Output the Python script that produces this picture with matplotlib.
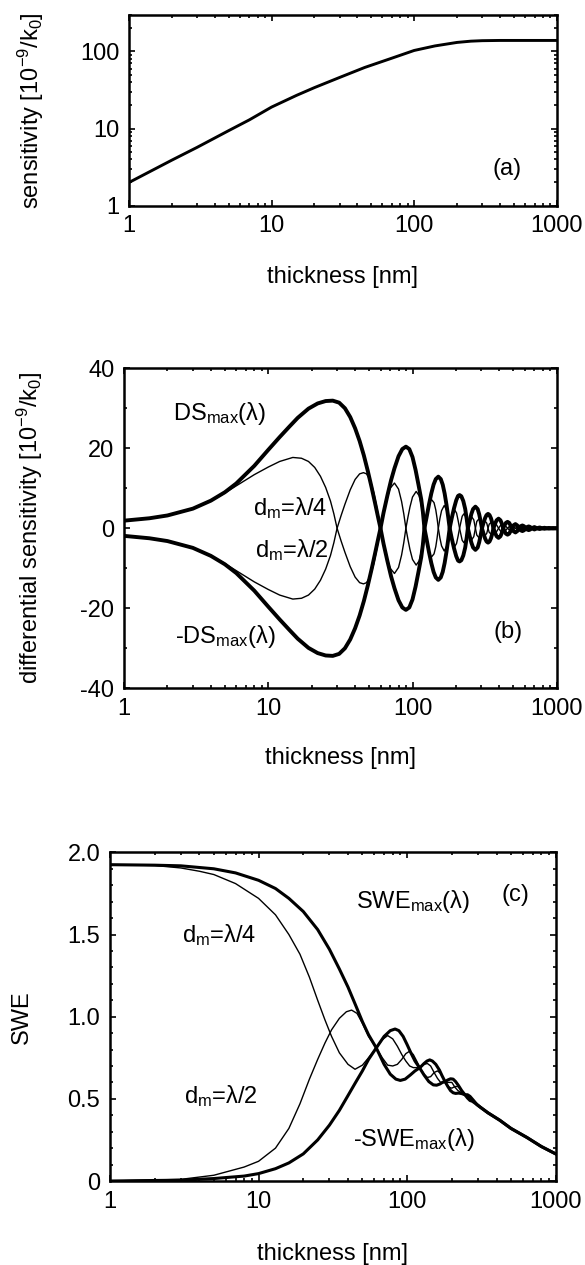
import matplotlib
matplotlib.use("Agg")
import numpy as np
import matplotlib.pyplot as plt
from matplotlib.ticker import MultipleLocator, NullFormatter

# ---- panel (a): sensitivity vs thickness ----
sens_x = [1, 2, 3, 5, 7, 10, 15, 20, 30, 45, 70, 100, 140, 200, 250, 300, 400, 600, 1000]
sens_y = [2.0, 3.9, 5.7, 9.4, 13.0, 19.0, 27, 34, 46, 62, 82, 103, 118, 131, 136, 138, 139, 139, 139]

# ---- panel (b): differential sensitivity ----
ds_x = [1, 1.5, 2, 3, 4, 5, 6, 8, 10, 12,
        14, 16, 19, 22, 25, 28, 31, 34, 37, 40,
        43, 46, 49, 52, 55, 58, 60, 63, 67, 71,
        75, 80, 85, 90, 95, 100, 105, 110, 115, 118,
        121, 125, 130, 135, 140, 145, 151, 157, 162, 167,
        172, 177, 181, 187, 194, 201, 207, 212, 218, 225,
        232, 238, 242, 249, 256, 263, 273, 283, 290, 297,
        303, 311, 319, 326, 334, 342, 350, 357, 364, 373,
        383, 395, 407, 416, 425, 434, 444, 456, 468, 477,
        486, 500, 517, 533, 547, 561, 578, 594, 608, 624,
        639, 654, 669, 700, 730, 761, 791, 822, 852, 883,
        913, 944, 974, 1000]
ds_max = [1.9, 2.5, 3.2, 4.9, 6.9, 9.0, 11.2, 15.6, 19.6, 22.8,
          25.4, 27.6, 29.9, 31.2, 31.8, 31.9, 31.4, 30.0, 27.8, 25.0,
          21.8, 18.2, 14.3, 10.3, 6.3, 2.4, 0.0, -3.9, -8.2, -12.0,
          -15.0, -18.0, -19.8, -20.4, -19.8, -17.8, -14.6, -10.9, -7.2, -4.1,
          0.0, 2.6, 5.9, 8.7, 10.9, 12.3, 12.9, 12.3, 10.9, 8.7,
          5.9, 2.7, 0.0, -2.5, -5.0, -7.0, -8.1, -8.3, -8.0, -6.8,
          -4.8, -2.1, 0.0, 1.9, 3.6, 4.8, 5.4, 4.8, 3.5, 1.7,
          0.0, -1.4, -2.6, -3.3, -3.6, -3.3, -2.5, -1.4, 0.0, 1.1,
          2.0, 2.4, 2.0, 1.2, 0.0, -0.7, -1.35, -1.6, -1.35, -0.8,
          0.0, 0.7, 1.05, 0.7, 0.0, -0.5, -0.7, -0.5, 0.0, 0.32,
          0.46, 0.32, 0.0, -0.3, 0.0, 0.2, 0.0, -0.13, 0.0, 0.09,
          0.0, -0.06, 0.0, 0.03]

dm_x = [1, 1.5, 2, 3, 4, 5, 6, 7, 8, 10,
        12, 14.8, 17, 19, 21, 23, 25, 27, 28.5, 30,
        32, 34, 37, 40, 43, 45.7, 48, 51, 54, 57,
        60, 63, 66, 70, 75, 80, 84, 87, 90, 93,
        96, 100, 106, 111, 115, 118, 121, 124, 128, 132,
        136, 141, 145, 148, 151, 155, 159, 166, 173, 177,
        181, 185, 190, 196, 202, 207, 212, 217, 221, 227,
        233, 237, 242, 248, 257, 266, 273, 279, 288, 297,
        303, 309, 318, 327, 334, 340, 349, 358, 364, 379,
        395, 410, 425, 440, 456, 471, 486, 501, 517, 532,
        547, 562, 578, 593, 608, 623, 639, 700, 1000]
dm_quarter = [1.9, 2.5, 3.2, 4.9, 6.8, 8.8, 10.6, 12.1, 13.4, 15.3,
              16.7, 17.7, 17.5, 16.7, 15.2, 13.0, 10.2, 6.8, 3.6, 0.0,
              -3.2, -6.0, -9.6, -12.2, -13.6, -13.9, -13.6, -12.0, -8.8, -4.6,
              0.0, 3.8, 7.0, 10.0, 11.3, 9.8, 6.7, 3.6, 0.0, -2.8,
              -5.3, -7.8, -9.2, -8.2, -5.9, -3.2, 0.0, 2.7, 5.3, 6.8,
              7.1, 6.4, 4.6, 2.5, 0.0, -2.5, -4.4, -5.7, -4.4, -2.5,
              0.0, 2.0, 3.8, 4.6, 3.8, 2.0, 0.0, -1.7, -3.0, -3.6,
              -3.0, -1.7, 0.0, 2.1, 2.9, 2.1, 0.0, -1.7, -2.3, -1.7,
              0.0, 1.3, 1.8, 1.3, 0.0, -1.0, -1.4, -1.0, 0.0, 1.1,
              0.0, -0.85, 0.0, 0.65, 0.0, -0.5, 0.0, 0.4, 0.0, -0.3,
              0.0, 0.23, 0.0, -0.18, 0.0, 0.14, 0.0, 0.0, 0.0]

# ---- panel (c): SWE ----
swe_max_x = [1, 2, 3, 5, 7, 10, 13, 16, 20, 25,
             30, 35, 40, 45, 50, 55, 62, 70, 77, 84,
             90, 97, 105, 113, 122, 130, 136, 142, 148, 156,
             165, 172, 180, 188, 196, 204, 212, 222, 233, 245,
             255, 265, 280, 295, 310, 350, 420, 500, 640, 800, 1000]
swe_max = [1.925, 1.922, 1.918, 1.90, 1.875, 1.83, 1.78, 1.72, 1.64, 1.53,
           1.41, 1.29, 1.18, 1.07, 0.97, 0.89, 0.81, 0.71, 0.65, 0.62,
           0.612, 0.62, 0.645, 0.67, 0.69, 0.715, 0.73, 0.737, 0.73, 0.71,
           0.675, 0.64, 0.605, 0.575, 0.55, 0.537, 0.533, 0.535, 0.532, 0.525,
           0.525, 0.515, 0.49, 0.465, 0.45, 0.415, 0.37, 0.32, 0.265, 0.21, 0.165]

swe_min_x = [1, 3, 5, 8, 10, 13, 16, 20, 25, 30,
             35, 40, 45, 50, 55, 62, 70, 77, 83, 88,
             94, 100, 106, 113, 122, 130, 140, 150, 158, 166,
             173, 180, 188, 196, 204, 212, 222, 233, 245, 255,
             265, 275, 290, 310, 350, 420, 500, 640, 800, 1000]
swe_min = [0.0, 0.005, 0.015, 0.03, 0.045, 0.075, 0.11, 0.165, 0.25, 0.34,
           0.43, 0.52, 0.6, 0.67, 0.74, 0.81, 0.88, 0.915, 0.925, 0.915,
           0.88, 0.83, 0.78, 0.73, 0.685, 0.645, 0.605, 0.585, 0.583, 0.59,
           0.6, 0.605, 0.615, 0.622, 0.62, 0.605, 0.58, 0.55, 0.525, 0.505,
           0.49, 0.485, 0.47, 0.45, 0.415, 0.37, 0.32, 0.265, 0.21, 0.165]

swe_q_x = [1, 2, 3, 4, 5, 7, 10, 13, 16, 19,
           22, 25, 28, 31, 35, 40, 44.6, 50, 55, 62,
           68, 74, 80, 86, 92, 98, 104, 110, 116, 122,
           130, 137, 144, 152, 160, 168, 176, 184, 192, 200,
           210, 220, 230, 245, 260, 280, 300, 320, 350, 420,
           500, 640, 800, 1000]
swe_quarter = [1.925, 1.92, 1.905, 1.885, 1.865, 1.81, 1.72, 1.62, 1.5, 1.38,
               1.24, 1.1, 0.98, 0.88, 0.78, 0.71, 0.68, 0.705, 0.75, 0.81,
               0.86, 0.885, 0.865, 0.82, 0.77, 0.73, 0.7, 0.69, 0.69, 0.69,
               0.71, 0.715, 0.7, 0.66, 0.625, 0.6, 0.6, 0.6, 0.6, 0.6,
               0.57, 0.55, 0.54, 0.525, 0.51, 0.49, 0.465, 0.44, 0.415, 0.37,
               0.32, 0.265, 0.21, 0.165]

swe_h_x = [1, 3, 5, 8, 10, 13, 16, 19, 22, 25,
           28, 31, 35, 39, 42.3, 46, 50, 55, 62, 68,
           74, 80, 86, 92, 98, 104, 110, 116, 122, 130,
           137, 144, 152, 160, 168, 176, 184, 192, 200, 210,
           220, 230, 245, 260, 280, 300, 320, 350, 420, 500,
           640, 800, 1000]
swe_half = [0.0, 0.01, 0.035, 0.085, 0.12, 0.2, 0.32, 0.47, 0.62, 0.74,
            0.84, 0.92, 0.99, 1.03, 1.04, 1.02, 0.96, 0.88, 0.81, 0.75,
            0.705, 0.7, 0.71, 0.74, 0.775, 0.79, 0.77, 0.73, 0.69, 0.65,
            0.63, 0.635, 0.66, 0.67, 0.655, 0.62, 0.59, 0.57, 0.565, 0.575,
            0.575, 0.555, 0.525, 0.51, 0.49, 0.465, 0.44, 0.415, 0.37, 0.32,
            0.265, 0.21, 0.165]

FS = 17
plt.rcParams['font.family'] = ['Liberation Sans', 'DejaVu Sans']
plt.rcParams['font.size'] = FS
plt.rcParams['mathtext.fontset'] = 'custom'
plt.rcParams['mathtext.rm'] = 'Liberation Sans'
plt.rcParams['mathtext.it'] = 'Liberation Sans:italic'
plt.rcParams['axes.unicode_minus'] = False
plt.rcParams['axes.linewidth'] = 1.8


def style_axes(ax):
    # ticks inside on all four sides
    ax.tick_params(which='both', direction='in', top=True, right=True,
                   labelsize=FS, width=1.2, pad=7)
    ax.tick_params(which='major', length=4)
    ax.tick_params(which='minor', length=2.2)


def log_xaxis(ax):
    ax.set_xscale('log')
    ax.set_xlim(1, 1000)
    ax.set_xticks([1, 10, 100, 1000])
    ax.set_xticklabels(['1', '10', '100', '1000'])
    ax.xaxis.set_minor_formatter(NullFormatter())


fig = plt.figure(figsize=(5.85, 12.65), dpi=100)

# panel (a)
ax1 = fig.add_axes([0.2205, 0.8374, 0.7311, 0.1510])
ax1.plot(sens_x, sens_y, color='black', lw=2.1)
log_xaxis(ax1)
ax1.set_yscale('log')
ax1.set_ylim(1, 300)
ax1.set_yticks([1, 10, 100])
ax1.set_yticklabels(['1', '10', '100'])
ax1.yaxis.set_minor_formatter(NullFormatter())
style_axes(ax1)
ax1.set_xlabel('thickness [nm]', va='center')
ax1.xaxis.set_label_coords(0.5, -0.373)
ax1.set_ylabel(r'sensitivity [10$^{\mathrm{-9}}$/k$_{\mathrm{0}}$]', va='center')
ax1.yaxis.set_label_coords(-0.229, 0.5)
ax1.text(0.884, 0.192, '(a)', transform=ax1.transAxes, ha='center', va='center')

# panel (b)
ax2 = fig.add_axes([0.2120, 0.4559, 0.7397, 0.2530])
ds_arr = np.array(ds_max)
dm_arr = np.array(dm_quarter)
ax2.plot(dm_x, dm_arr, color='black', lw=1.0)
ax2.plot(dm_x, -dm_arr, color='black', lw=1.0)
ax2.plot(ds_x, ds_arr, color='black', lw=2.8)
ax2.plot(ds_x, -ds_arr, color='black', lw=2.8)
log_xaxis(ax2)
ax2.set_ylim(-40, 40)
ax2.set_yticks([-40, -20, 0, 20, 40])
ax2.yaxis.set_minor_locator(MultipleLocator(10))
style_axes(ax2)
ax2.set_xlabel('thickness [nm]', va='center')
ax2.xaxis.set_label_coords(0.5, -0.218)
ax2.set_ylabel(r'differential sensitivity [10$^{\mathrm{-9}}$/k$_{\mathrm{0}}$]', va='center')
ax2.yaxis.set_label_coords(-0.217, 0.5)
ax2.text(0.114, 0.859, r'DS$_{\mathrm{max}}$(λ)', transform=ax2.transAxes, ha='left', va='center')
ax2.text(0.118, 0.161, r'-DS$_{\mathrm{max}}$(λ)', transform=ax2.transAxes, ha='left', va='center')
ax2.text(0.299, 0.5625, r'd$_{\mathrm{m}}$=λ/4', transform=ax2.transAxes, ha='left', va='center')
ax2.text(0.302, 0.432, r'd$_{\mathrm{m}}$=λ/2', transform=ax2.transAxes, ha='left', va='center')
ax2.text(0.887, 0.177, '(b)', transform=ax2.transAxes, ha='center', va='center')

# panel (c)
ax3 = fig.add_axes([0.1880, 0.0664, 0.7619, 0.2598])
ax3.plot(swe_q_x, swe_quarter, color='black', lw=1.0)
ax3.plot(swe_h_x, swe_half, color='black', lw=1.0)
ax3.plot(swe_max_x, swe_max, color='black', lw=2.2)
ax3.plot(swe_min_x, swe_min, color='black', lw=2.2)
log_xaxis(ax3)
ax3.set_ylim(0, 2.0)
ax3.set_yticks([0, 0.5, 1.0, 1.5, 2.0])
ax3.set_yticklabels(['0', '0.5', '1.0', '1.5', '2.0'])
ax3.yaxis.set_minor_locator(MultipleLocator(0.1))
style_axes(ax3)
ax3.set_xlabel('thickness [nm]', va='center')
ax3.xaxis.set_label_coords(0.5, -0.222)
ax3.set_ylabel('SWE', va='center')
ax3.yaxis.set_label_coords(-0.197, 0.5)
ax3.text(0.553, 0.85, r'SWE$_{\mathrm{max}}$(λ)', transform=ax3.transAxes, ha='left', va='center')
ax3.text(0.546, 0.125, r'-SWE$_{\mathrm{max}}$(λ)', transform=ax3.transAxes, ha='left', va='center')
ax3.text(0.161, 0.748, r'd$_{\mathrm{m}}$=λ/4', transform=ax3.transAxes, ha='left', va='center')
ax3.text(0.165, 0.2586, r'd$_{\mathrm{m}}$=λ/2', transform=ax3.transAxes, ha='left', va='center')
ax3.text(0.909, 0.87, '(c)', transform=ax3.transAxes, ha='center', va='center')

fig.savefig('out.png', dpi=100)
